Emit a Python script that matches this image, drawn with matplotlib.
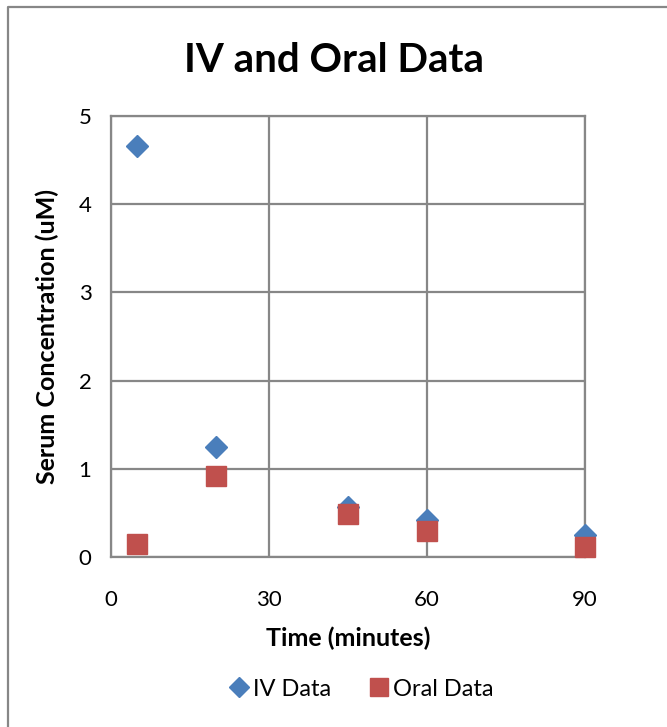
import matplotlib
matplotlib.use("Agg")
import matplotlib.pyplot as plt
from matplotlib.lines import Line2D

plt.rcParams['font.family'] = ['Lato', 'DejaVu Sans']

time_iv = [5, 20, 45, 60, 90]
conc_iv = [4.66, 1.25, 0.57, 0.42, 0.25]
time_oral = [5, 20, 45, 60, 90]
conc_oral = [0.15, 0.92, 0.49, 0.29, 0.11]
x_ticks = [0, 30, 60, 90]
y_ticks = [0, 1, 2, 3, 4, 5]

fig = plt.figure(figsize=(6.67, 7.27), dpi=100)
ax = fig.add_axes([0.1664, 0.2338, 0.7106, 0.6066])

grid_c = '#878787'
ax.set_xlim(0, 90)
ax.set_ylim(0, 5)
ax.set_xticks(x_ticks)
ax.set_yticks(y_ticks)
ax.grid(True, color=grid_c, linewidth=1.6)
ax.set_axisbelow(True)
for s in ax.spines.values():
    s.set_color(grid_c)
    s.set_linewidth(1.6)
ax.tick_params(length=0, labelsize=16, pad=14)
ax.tick_params(axis='x', pad=24)

ax.plot(time_iv, conc_iv, linestyle='none', marker='D', markersize=11,
        color='#4a7ebb', label='IV Data', clip_on=False, zorder=3)
ax.plot(time_oral, conc_oral, linestyle='none', marker='s', markersize=14,
        color='#c0504d', label='Oral Data', clip_on=False, zorder=4)

ax.set_xlabel('Time (minutes)', fontsize=18, fontweight='bold', labelpad=12)
ax.set_ylabel('Serum Concentration (uM)', fontsize=18, fontweight='bold', labelpad=14)
fig.text(0.5, 0.917, 'IV and Oral Data', ha='center', va='center',
         fontsize=29, fontweight='bold')

leg = fig.legend(loc='center', bbox_to_anchor=(0.54, 0.052), ncol=2, frameon=False,
                 fontsize=17, handletextpad=0.1, columnspacing=1.5, handlelength=1.0,
                 markerscale=0.9)

fig.add_artist(Line2D([8/667, 8/667, 1.01], [-0.01, 1 - 7/727, 1 - 7/727],
                      transform=fig.transFigure, color=grid_c, linewidth=1.6))

fig.savefig('out.png', dpi=100)
